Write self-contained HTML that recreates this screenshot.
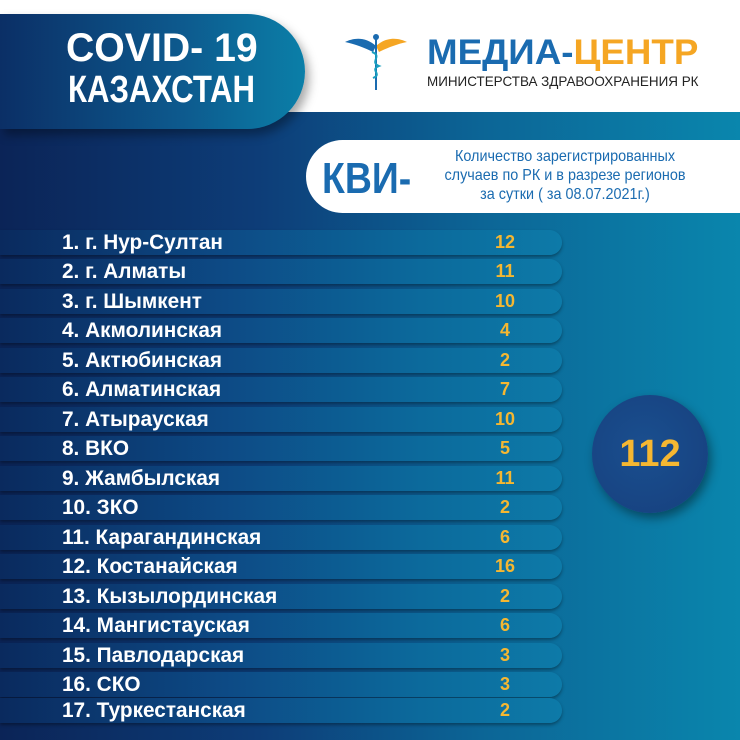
<!DOCTYPE html>
<html><head><meta charset="utf-8"><style>
*{margin:0;padding:0;box-sizing:border-box}
body{width:740px;height:740px;overflow:hidden;font-family:"Liberation Sans",sans-serif;position:relative;background:#fff}
.bg{position:absolute;left:0;top:112px;width:740px;height:628px;background:linear-gradient(90deg,#0b2457 0%,#0d3d78 35%,#0c6596 65%,#0a86ad 100%)}
.panel{position:absolute;left:0;top:14px;width:305px;height:115px;border-radius:0 60px 60px 0;background:linear-gradient(90deg,#0b2f66 0%,#0d5a8e 60%,#0b7fa8 100%);box-shadow:4px 6px 10px rgba(0,0,0,.35)}
.t{position:absolute;color:#fff;font-weight:bold;transform-origin:left center;white-space:nowrap}
.kvi{position:absolute;left:306px;top:140px;width:440px;height:73px;background:#fff;border-radius:37px 0 0 37px}
.row{position:absolute;left:0;width:562px;height:25px;border-radius:0 13px 13px 0;background:linear-gradient(90deg,#0a2a5e 0%,#0d4a85 40%,#0c6a9c 75%,#0d7aa8 100%);box-shadow:0 2px 3px rgba(0,0,0,.35)}
.row span{position:absolute;left:62px;top:0;line-height:25px;font-size:21px;font-weight:bold;color:#fff;transform:scaleX(.99);transform-origin:left center;white-space:nowrap}
.row b{position:absolute;left:485px;width:40px;text-align:center;top:0;line-height:25px;font-size:18px;color:#f5b731;font-weight:900}
.circ{position:absolute;left:592px;top:395px;width:116px;height:118px;border-radius:50%;background:radial-gradient(circle at 45% 45%,#1a4f8f,#163f7d);box-shadow:3px 5px 10px rgba(0,0,0,.4);color:#f5b731;font-weight:bold;font-size:38px;text-align:center;line-height:118px}
</style></head><body>
<div class="bg"></div>
<div class="panel"></div>
<div class="t" style="left:66px;top:26px;font-size:40px;transform:scaleX(.98)">COVID- 19</div>
<div class="t" style="left:68px;top:69px;font-size:38px;transform:scaleX(.82)">КАЗАХСТАН</div>
<svg style="position:absolute;left:345px;top:32px" width="62" height="58" viewBox="0 0 62 58">
<path d="M31 14 C20 4 8 6 0 10 C10 12 20 16 28 20Z" fill="#1a6bb0"/>
<path d="M31 14 C42 4 54 6 62 10 C52 12 42 16 34 20Z" fill="#f5a623"/>
<line x1="31" y1="4" x2="31" y2="58" stroke="#1a6bb0" stroke-width="2"/>
<path d="M27 20 C38 24 24 30 34 34 C24 38 38 42 28 46" stroke="#1aa0c0" stroke-width="2" fill="none"/>
<circle cx="31" cy="5" r="3" fill="#1a6bb0"/></svg>
<div class="t" style="left:427px;top:33px;font-size:35px;color:#1a6bb0;transform:scaleX(1.05)">МЕДИА-<span style="color:#f5a623">ЦЕНТР</span></div>
<div class="t" style="left:427px;top:73px;font-size:14px;font-weight:normal;color:#222;transform:scaleX(.96)">МИНИСТЕРСТВА ЗДРАВООХРАНЕНИЯ РК</div>
<div class="kvi"></div>
<div class="t" style="left:322px;top:154px;font-size:44px;color:#1a6bb0;transform:scaleX(.85)">КВИ-</div>
<div style="position:absolute;left:415px;top:147px;width:300px;text-align:center;color:#1a6bb0;font-size:16px;line-height:19px;transform:scaleX(.9);transform-origin:center">Количество зарегистрированных<br>случаев по РК и в разрезе регионов<br>за сутки ( за 08.07.2021г.)</div>
<div class="row" style="top:230px"><span>1. г. Нур-Султан</span><b>12</b></div>
<div class="row" style="top:259px"><span>2. г. Алматы</span><b>11</b></div>
<div class="row" style="top:289px"><span>3. г. Шымкент</span><b>10</b></div>
<div class="row" style="top:318px"><span>4. Акмолинская</span><b>4</b></div>
<div class="row" style="top:348px"><span>5. Актюбинская</span><b>2</b></div>
<div class="row" style="top:377px"><span>6. Алматинская</span><b>7</b></div>
<div class="row" style="top:407px"><span>7. Атырауская</span><b>10</b></div>
<div class="row" style="top:436px"><span>8. ВКО</span><b>5</b></div>
<div class="row" style="top:466px"><span>9. Жамбылская</span><b>11</b></div>
<div class="row" style="top:495px"><span>10. ЗКО</span><b>2</b></div>
<div class="row" style="top:525px"><span>11. Карагандинская</span><b>6</b></div>
<div class="row" style="top:554px"><span>12. Костанайская</span><b>16</b></div>
<div class="row" style="top:584px"><span>13. Кызылординская</span><b>2</b></div>
<div class="row" style="top:613px"><span>14. Мангистауская</span><b>6</b></div>
<div class="row" style="top:643px"><span>15. Павлодарская</span><b>3</b></div>
<div class="row" style="top:672px"><span>16. СКО</span><b>3</b></div>
<div class="row" style="top:698px"><span>17. Туркестанская</span><b>2</b></div>
<div class="circ">112</div>
</body></html>
